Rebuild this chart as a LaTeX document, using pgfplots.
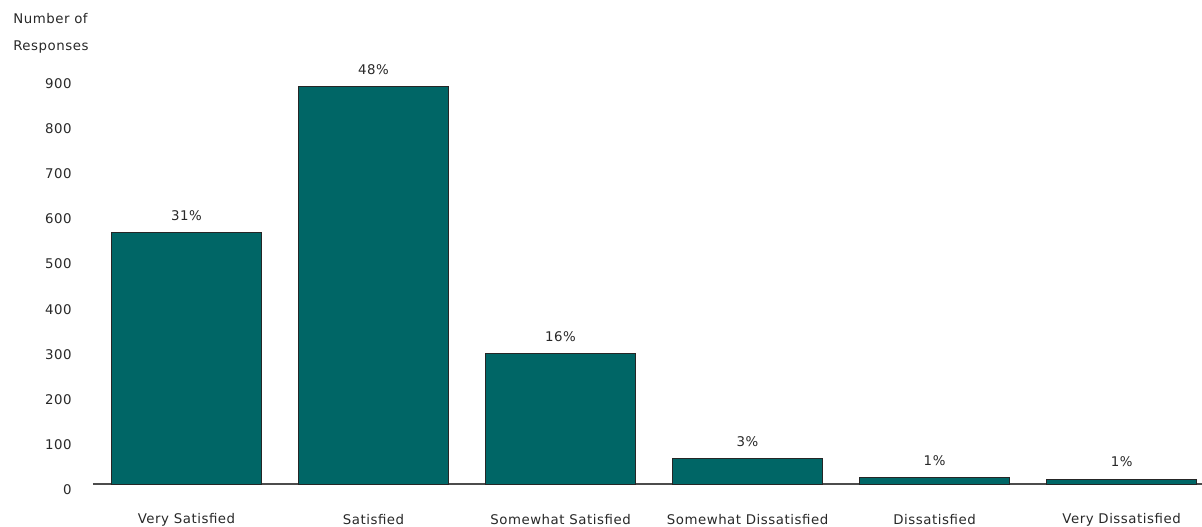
\documentclass[border=0pt]{standalone}
\usepackage{fontspec}
\setmainfont{DejaVu Sans}[LetterSpace=4]
\usepackage{pgfplots}
\pgfplotsset{compat=1.18}
\definecolor{barteal}{RGB}{0,102,102}
\definecolor{txt}{RGB}{40,40,40}
\begin{document}
\begin{tikzpicture}[font=\fontsize{10}{12}\selectfont, text=txt]
\begin{axis}[
  at={(0pt,0pt)}, anchor=south west,
  scale only axis,
  width=831.75pt, height=305.1pt,
  xmin=-0.5, xmax=5.43,
  ymin=0, ymax=900,
  axis lines*=left,
  y axis line style={draw=none},
  x axis line style={draw=black!70, line width=1.2pt},
  ytick={0,100,...,900},
  ytick style={draw=none},
  xtick style={draw=none},
  xtick=data,
  xticklabels={Very Satisfied, Satisfied, Somewhat Satisfied, Somewhat Dissatisfied, Dissatisfied, Very Dissatisfied},
  xticklabel style={anchor=center, inner sep=0pt, yshift=-27pt},
  yticklabel style={anchor=east, inner sep=0pt, xshift=-15.75pt, yshift=-4.5pt},
  /pgf/number format/assume math mode=true,
  clip=false,
  nodes near coords,
  point meta=explicit symbolic,
  every node near coord/.append style={anchor=center, inner sep=0pt, yshift=12.75pt},
]
\addplot[ybar, bar width=0.8, fill=barteal, draw=black!85, line width=0.6pt] coordinates {
  (0,557) [31\%]
  (1,880) [48\%]
  (2,288) [16\%]
  (3,57) [3\%]
  (4,15) [1\%]
  (5,11) [1\%]
};
\end{axis}
\node[anchor=west, inner sep=0pt] at (-60pt,349pt) {Number of};
\node[anchor=west, inner sep=0pt] at (-60pt,328pt) {Responses};
\pgfresetboundingbox
\path[use as bounding box] (-69.75pt,-32.25pt) rectangle (831.75pt,363pt);
\end{tikzpicture}
\end{document}
